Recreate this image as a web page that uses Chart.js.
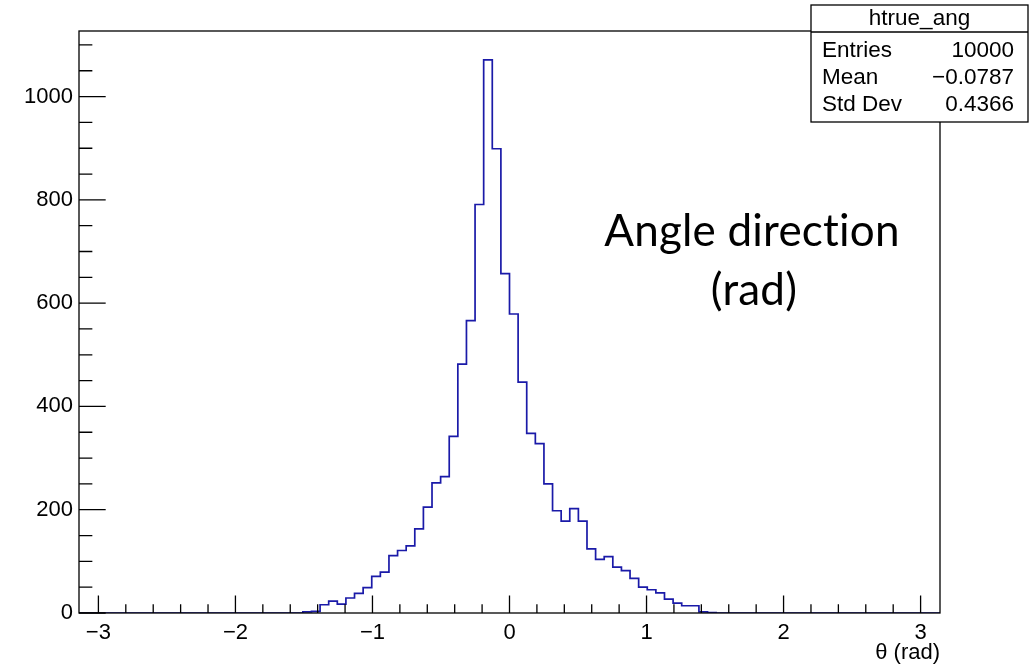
<!DOCTYPE html>
<html>
<head>
<meta charset="utf-8">
<title>htrue_ang</title>
<script src="https://cdn.jsdelivr.net/npm/chart.js@4.4.1/dist/chart.umd.min.js"></script>
<style>
    html, body { margin: 0; padding: 0; background: #fff; }
    #chart { display: block; }
</style>
</head>
<body>
<canvas id="chart" width="1033" height="666"></canvas>
<script>
// Histogram binning: 100 bins over [-pi, pi]
const xMin = -Math.PI;
const xMax = Math.PI;
const yMax = 1127;

// Bin contents (bins 0..99)
const counts = [
    0, 0, 0, 0, 0, 0, 0, 0, 0, 0,
    0, 0, 0, 0, 0, 0, 0, 0, 0, 0,
    0, 0, 0, 0, 0, 0, 2, 3, 16, 23,
    17, 29, 38, 49, 71, 79, 111, 121, 130, 163,
    205, 252, 264, 342, 482, 566, 791, 1071, 899, 657,
    579, 447, 348, 328, 250, 198, 178, 202, 178, 124,
    104, 109, 89, 82, 67, 50, 45, 39, 27, 19,
    14, 14, 2, 1, 0, 0, 0, 0, 0, 0,
    0, 0, 0, 0, 0, 0, 0, 0, 0, 0,
    0, 0, 0, 0, 0, 0, 0, 0, 0, 0
];

// Axis ticks
const xTicks = [-3, -2, -1, 0, 1, 2, 3];
const xMinorStep = 0.2;
const yTicks = [0, 200, 400, 600, 800, 1000];
const yMinorStep = 50;

// Stats box
const statsTitle = 'htrue_ang';
const statsLabels = ['Entries', 'Mean', 'Std Dev'];
const statsValues = ['10000', '\u22120.0787', '0.4366'];

// Annotation
const noteLines = ['Angle direction', '(rad)'];

const rootFont = '"Liberation Sans", Arial, Helvetica, sans-serif';
const minus = s => String(s).replace('-', '\u2212');

// Build step points at the bin edges
const binWidth = (xMax - xMin) / counts.length;
const histPoints = counts.map((c, i) => ({ x: xMin + i * binWidth, y: c }));
histPoints.push({ x: xMax, y: counts[counts.length - 1] });

// Frame, ROOT-style inner ticks, stats box and note
const rootDecor = {
    id: 'rootDecor',
    afterDatasetsDraw(chart) {
        const ctx = chart.ctx;
        const area = chart.chartArea;
        const xs = chart.scales.x;
        const ys = chart.scales.y;
        const h = area.bottom - area.top;
        const w = area.right - area.left;

        ctx.save();
        ctx.strokeStyle = '#000';
        ctx.lineWidth = 1.3;
        ctx.strokeRect(area.left, area.top, w, h);

        ctx.beginPath();
        // x ticks
        for (let v = -3; v <= 3.0001; v += xMinorStep) {
            const px = xs.getPixelForValue(v);
            const major = Math.abs(v - Math.round(v)) < 1e-6;
            const len = major ? h * 0.03 : h * 0.015;
            ctx.moveTo(px, area.bottom);
            ctx.lineTo(px, area.bottom - len);
        }
        // y ticks
        for (let v = 0; v <= yMax; v += yMinorStep) {
            const py = ys.getPixelForValue(v);
            const major = v % 200 === 0;
            const len = major ? w * 0.031 : w * 0.0155;
            ctx.moveTo(area.left, py);
            ctx.lineTo(area.left + len, py);
        }
        ctx.stroke();

        // annotation text (no "ti" ligature)
        ctx.fillStyle = '#000';
        ctx.font = '44px Lato, "Open Sans", sans-serif';
        if ('textRendering' in ctx) ctx.textRendering = 'optimizeSpeed';
        if ('letterSpacing' in ctx) ctx.letterSpacing = '0.2px';
        ctx.textAlign = 'center';
        ctx.textBaseline = 'alphabetic';
        ctx.fillText(noteLines[0], 752, 246);
        ctx.fillText(noteLines[1], 754, 305);
        if ('letterSpacing' in ctx) ctx.letterSpacing = '0px';

        // stats box
        const bx = 811, by = 5, bw = 217, bh = 117;
        ctx.fillStyle = '#fff';
        ctx.fillRect(bx, by, bw, bh);
        ctx.lineWidth = 1.3;
        ctx.strokeRect(bx, by, bw, bh);
        ctx.beginPath();
        ctx.moveTo(bx, 32);
        ctx.lineTo(bx + bw, 32);
        ctx.stroke();

        ctx.fillStyle = '#000';
        ctx.font = '22.5px ' + rootFont;
        ctx.textBaseline = 'middle';
        ctx.textAlign = 'center';
        ctx.fillText(statsTitle, bx + bw / 2, 19);
        const rowY = [51, 78, 105];
        statsLabels.forEach((lab, i) => {
            ctx.textAlign = 'left';
            ctx.fillText(lab, 822, rowY[i]);
            ctx.textAlign = 'right';
            ctx.fillText(statsValues[i], 1014, rowY[i]);
        });
        ctx.restore();
    }
};

new Chart(document.getElementById('chart'), {
    type: 'line',
    data: {
        datasets: [{
            label: statsTitle,
            data: histPoints,
            stepped: 'before',
            borderColor: '#1a1aa8',
            borderWidth: 1.7,
            pointRadius: 0,
            fill: false,
            tension: 0
        }]
    },
    options: {
        responsive: false,
        animation: false,
        devicePixelRatio: 1,
        layout: { padding: { left: 0, top: 31, right: 93, bottom: 0 } },
        plugins: {
            legend: { display: false },
            tooltip: { enabled: false }
        },
        scales: {
            x: {
                type: 'linear',
                min: xMin,
                max: xMax,
                grid: { display: false, drawTicks: false },
                border: { display: false },
                afterBuildTicks: scale => { scale.ticks = xTicks.map(v => ({ value: v })); },
                afterFit: scale => { scale.height = 53; },
                ticks: {
                    padding: 7,
                    color: '#000',
                    font: { family: rootFont, size: 22 },
                    maxRotation: 0,
                    callback: v => minus(v)
                },
                title: {
                    display: true,
                    text: '\u03b8 (rad)',
                    align: 'end',
                    color: '#000',
                    font: { family: rootFont, size: 22 },
                    padding: { top: 0, bottom: 0 }
                }
            },
            y: {
                min: 0,
                max: yMax,
                grid: { display: false, drawTicks: false },
                border: { display: false },
                afterBuildTicks: scale => { scale.ticks = yTicks.map(v => ({ value: v })); },
                afterFit: scale => { scale.width = 79; },
                ticks: {
                    padding: 6,
                    color: '#000',
                    font: { family: rootFont, size: 22 },
                    callback: v => String(v)
                }
            }
        }
    },
    plugins: [rootDecor]
});
</script>
</body>
</html>
